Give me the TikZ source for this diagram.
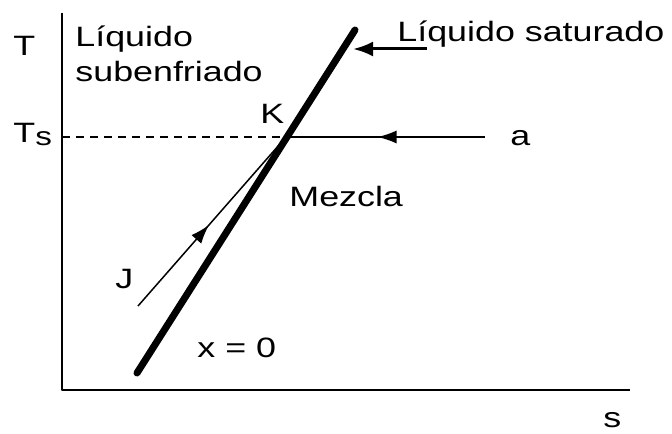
\documentclass[tikz,border=0pt]{standalone}
\usepackage{fontspec}
\setmainfont[FakeStretch=1.28]{Liberation Sans}
\usetikzlibrary{arrows.meta,decorations.markings}
\tikzset{midarrow/.style={postaction={decorate,decoration={markings,
      mark=at position #1 with {\arrow{>}}}}}}
\begin{document}
\begin{tikzpicture}[x=0.5pt, y=-0.5pt, line join=round, >={Latex[length=9.5pt,width=6.5pt]},
	font=\fontsize{14}{17.5}\selectfont]
	\useasboundingbox (0,0) rectangle (672,433);
	% axes
	\coordinate (ytop) at (62,13);
	\coordinate (O) at (62,390);
	\coordinate (xend) at (630,390);
	\draw[line width=1pt] (ytop) -- (O) -- (xend);
	\node[anchor=base west, inner sep=0] (T) at (13,55) {T};
	\node[anchor=base west, inner sep=0] (Ts) at (13,142) {T{\fontsize{13}{13}\selectfont\raisebox{-1.5pt}{s}}};
	\node[anchor=base west, inner sep=0] (s) at (603,427) {s};
	% saturation line and paths
	\coordinate (Lbot) at (137,373);
	\coordinate (Ltop) at (355,30);
	\coordinate (K) at (286,137);
	\coordinate (Tax) at (62,137);
	\coordinate (aend) at (485,137);
	\coordinate (Jst) at (138,306);
	\draw[line width=3.5pt, line cap=round] (Lbot) -- (Ltop);
	\draw[line width=0.75pt, dash pattern=on 4pt off 3pt] (Tax) -- (K);
	\draw[line width=0.75pt, midarrow=0.54] (aend) -- (K);
	\draw[line width=0.75pt, midarrow=0.48] (Jst) -- (K);
	% labels
	\node[anchor=base west, inner sep=0, align=left] (sub) at (75,82) {Líquido\\subenfriado};
	\node[anchor=base west, inner sep=0] (sat) at (397,42) {Líquido saturado};
	\coordinate (satarr) at (427,49);
	\coordinate (sattip) at (353,49);
	\draw[line width=1.5pt, -{Latex[length=10pt,width=7.5pt]}] (satarr) -- (sattip);
	\node[anchor=base west, inner sep=0] (Klab) at (260,123) {K};
	\node[anchor=base west, inner sep=0] (a) at (510,145) {a};
	\node[anchor=base west, inner sep=0] (mezcla) at (289,206) {Mezcla};
	\node[anchor=base west, inner sep=0] (J) at (115,288) {J};
	\node[anchor=base west, inner sep=0] (x0) at (197,357) {x = 0};
\end{tikzpicture}
\end{document}
